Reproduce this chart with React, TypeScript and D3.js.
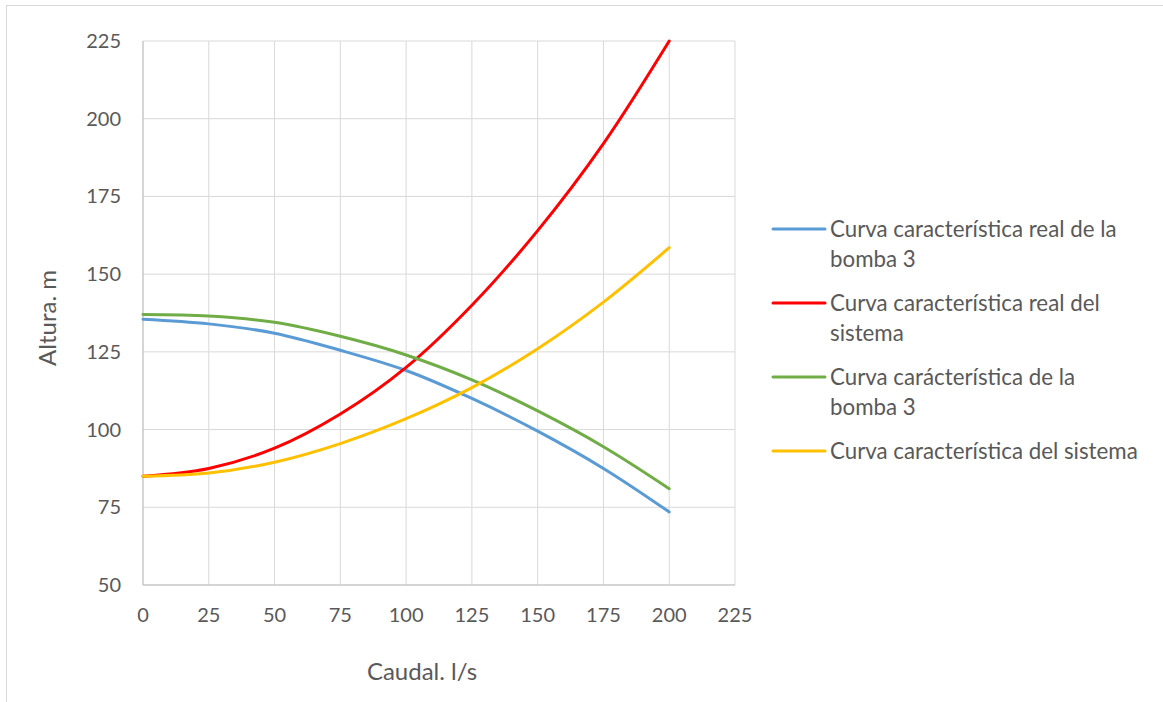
import React from "react";
import * as d3 from "d3";

const caudal = [0, 25, 50, 75, 100, 125, 150, 175, 200];
const realBomba = [135.5, 134, 131, 125.5, 119, 110, 99.5, 87.5, 73.5];
const realSistema = [85, 87.5, 94, 105, 120, 140, 164, 192, 225];
const bomba = [137, 136.5, 134.5, 130, 124, 116, 106, 94.5, 81];
const sistema = [85, 86, 89.5, 95.5, 103.5, 113.5, 126, 141, 158.5];
const xTicks = [0, 25, 50, 75, 100, 125, 150, 175, 200, 225];
const yTicks = [50, 75, 100, 125, 150, 175, 200, 225];

const seriesNames = [
  ["Curva característica real de la", "bomba 3"],
  ["Curva característica real del", "sistema"],
  ["Curva carácterística de la", "bomba 3"],
  ["Curva característica del sistema"],
];
const seriesValues = [realBomba, realSistema, bomba, sistema];
const colors = ["#5B9BD5", "#FF0000", "#70AD47", "#FFC000"];

export default function App() {
  const W = 1163, H = 702;
  const x = d3.scaleLinear().domain([0, 225]).range([143, 735]);
  const y = d3.scaleLinear().domain([50, 225]).range([585, 41]);
  const line = d3
    .line<[number, number]>()
    .x((d) => x(d[0]))
    .y((d) => y(d[1]))
    .curve(d3.curveCatmullRom.alpha(0.5));
  const font = "Lato, 'Open Sans', sans-serif";
  const txt = "#595959";
  const legendY = [229, 303, 377, 451];
  return (
    <svg width={W} height={H} style={{ position: "absolute", left: 0, top: 0 }} fontFamily={font}>
      <rect x={0} y={0} width={W} height={H} fill="#fff" />
      <rect x={6.5} y={5.5} width={W + 10} height={H + 10} fill="none" stroke="#d9d9d9" strokeWidth={1} />
      {xTicks.map((t) => (
        <line key={"gx" + t} x1={x(t)} x2={x(t)} y1={y(50)} y2={y(225)} stroke="#d9d9d9" strokeWidth={1} />
      ))}
      {yTicks.map((t) => (
        <line key={"gy" + t} x1={x(0)} x2={x(225)} y1={y(t)} y2={y(t)} stroke="#d9d9d9" strokeWidth={1} />
      ))}
      <line x1={x(0)} x2={x(0)} y1={y(50)} y2={y(225)} stroke="#bfbfbf" strokeWidth={1} />
      <line x1={x(0)} x2={x(225)} y1={y(50)} y2={y(50)} stroke="#bfbfbf" strokeWidth={1} />
      {yTicks.map((t) => (
        <text key={"ty" + t} x={x(0) - 22} y={y(t)} dy="0.35em" textAnchor="end" fontSize={20} fill={txt}>
          {t}
        </text>
      ))}
      {xTicks.map((t) => (
        <text key={"tx" + t} x={x(t)} y={y(50) + 30} dy="0.35em" textAnchor="middle" fontSize={20} fill={txt}>
          {t}
        </text>
      ))}
      <text x={422} y={672} dy="0.35em" textAnchor="middle" fontSize={24} fill={txt}>
        Caudal. l/s
      </text>
      <text transform={`translate(48,318) rotate(-90)`} dy="0.35em" textAnchor="middle" fontSize={24} fill={txt}>
        Altura. m
      </text>
      {seriesValues.map((vals, i) => (
        <path
          key={"s" + i}
          d={line(caudal.map((c, j) => [c, vals[j]] as [number, number])) || ""}
          fill="none"
          stroke={colors[i]}
          strokeWidth={3}
          strokeLinecap="round"
        />
      ))}
      {seriesNames.map((lines, i) => (
        <g key={"l" + i}>
          <line x1={773} x2={825} y1={legendY[i]} y2={legendY[i]} stroke={colors[i]} strokeWidth={3} strokeLinecap="round" />
          {lines.map((s, k) => (
            <text key={k} x={830} y={legendY[i] + k * 30} dy="0.35em" fontSize={22.3} fill={txt}>
              {s}
            </text>
          ))}
        </g>
      ))}
    </svg>
  );
}
